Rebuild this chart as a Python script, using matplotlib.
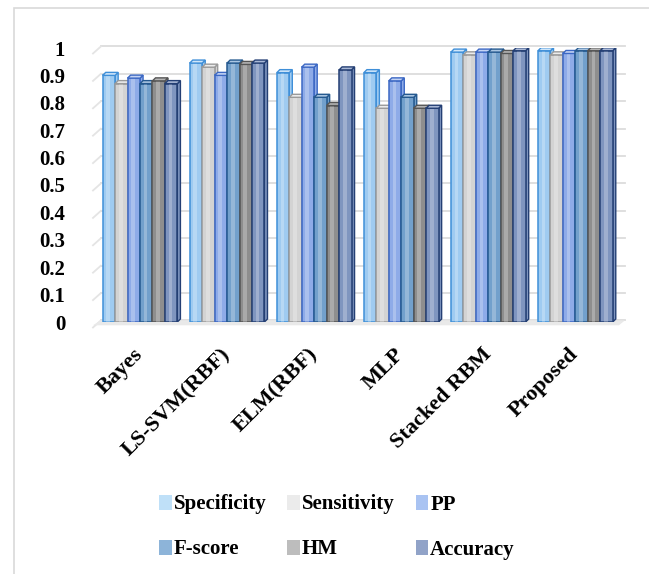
import matplotlib
matplotlib.use("Agg")
import matplotlib.pyplot as plt
import numpy as np
from matplotlib.patches import Polygon, Rectangle, Patch

# Scores for each classifier, one list per metric
methods = ["Bayes", "LS-SVM(RBF)", "ELM(RBF)", "MLP", "Stacked RBM", "Proposed"]
specificity = [0.90, 0.945, 0.91, 0.91, 0.985, 0.99]
sensitivity = [0.87, 0.93, 0.82, 0.78, 0.975, 0.975]
pp = [0.89, 0.90, 0.93, 0.88, 0.985, 0.98]
f_score = [0.87, 0.945, 0.82, 0.82, 0.985, 0.99]
hm = [0.88, 0.94, 0.79, 0.78, 0.98, 0.99]
accuracy = [0.87, 0.945, 0.92, 0.78, 0.99, 0.99]
series_names = ["Specificity", "Sensitivity", "PP", "F-score", "HM", "Accuracy"]
y_ticks = [0, 0.1, 0.2, 0.3, 0.4, 0.5, 0.6, 0.7, 0.8, 0.9, 1]

series = [specificity, sensitivity, pp, f_score, hm, accuracy]
face_colors = ["#9fcbf1", "#d3d3d3", "#8eabe8", "#72a0cc", "#8e8e8e", "#7f95bf"]
edge_colors = ["#3f8fd8", "#9a9a9a", "#3c68c4", "#25598f", "#555555", "#243f74"]
top_colors = ["#cfe6fa", "#ececec", "#c3d3f4", "#a9c5e2", "#b5b5b5", "#a9b8d6"]
legend_colors = ["#bfe0f8", "#ebebeb", "#a9c3f2", "#8db4d9", "#bdbdbd", "#91a3c8"]

FONT = "Liberation Serif"

fig = plt.figure(figsize=(6.49, 5.74), dpi=100)
fig.patch.set_facecolor("white")

# Light frame round the chart area
fig.patches.append(Rectangle((14 / 649, -0.1), 1.2, 1 - 8 / 574 + 0.1,
                             transform=fig.transFigure, fill=False,
                             edgecolor="#d9d9d9", linewidth=1.2))

ax = fig.add_axes([93 / 649, 252 / 574, 532 / 649, 274 / 574])
ax.set_xlim(-0.54, 5.57)
ax.set_ylim(0, 1.0)

x = np.arange(len(methods))
width = 0.143
dx, dy = 0.035, 0.011  # depth offset of the pseudo-3D bars

# Back-wall gridlines and floor
for t in y_ticks:
    ax.plot([-0.54 + 0.09, 5.57], [t + dy * 0.5, t + dy * 0.5], color="#dcdcdc",
            linewidth=1.3, zorder=0, clip_on=False)
    ax.plot([-0.54, -0.54 + 0.09], [t - 0.02, t + dy * 0.5], color="#e4e4e4",
            linewidth=1.3, zorder=0, clip_on=False)
ax.add_patch(Polygon([[-0.54, -0.012], [-0.45, 0.006], [5.57, 0.006], [5.50, -0.012]],
                     closed=True, facecolor="#e9e9e9", edgecolor="none", zorder=0,
                     clip_on=False))

for i, vals in enumerate(series):
    xs = x + (i - 2.5) * width
    bars = ax.bar(xs, vals, width=width, color=face_colors[i],
                  edgecolor=edge_colors[i], linewidth=1.1, zorder=2 + i)
    for b, v in zip(bars, vals):
        x0 = b.get_x()
        x1 = x0 + b.get_width()
        # highlight stripe
        ax.add_patch(Rectangle((x0 + b.get_width() * 0.3, 0), b.get_width() * 0.3, v,
                               facecolor="white", alpha=0.25, edgecolor="none",
                               zorder=2 + i))
        # top cap
        ax.add_patch(Polygon([[x0, v], [x0 + dx, v + dy], [x1 + dx, v + dy], [x1, v]],
                             closed=True, facecolor=top_colors[i],
                             edgecolor=edge_colors[i], linewidth=1.0, zorder=2 + i))
        # right side
        ax.add_patch(Polygon([[x1, 0], [x1 + dx, dy], [x1 + dx, v + dy], [x1, v]],
                             closed=True, facecolor=face_colors[i],
                             edgecolor=edge_colors[i], linewidth=1.0, zorder=1.5 + i))

for s in ax.spines.values():
    s.set_visible(False)
ax.set_yticks(y_ticks)
ax.set_yticklabels([f"{t:g}" for t in y_ticks], fontfamily=FONT, fontweight="bold",
                   fontsize=15)
ax.tick_params(axis="y", length=0, pad=20)
ax.set_xticks(x - 0.08)
ax.set_xticklabels(methods, rotation=45, ha="right", rotation_mode="anchor",
                   fontfamily=FONT, fontweight="bold", fontsize=16)
ax.tick_params(axis="x", length=0, pad=16)

# Legend, filled row by row
order = [0, 3, 1, 4, 2, 5]
handles = [Patch(facecolor=legend_colors[k], edgecolor="none") for k in order]
labels = [series_names[k] for k in order]
fig.legend(handles, labels, loc="center", bbox_to_anchor=(337 / 649, 1 - 527 / 574),
           ncol=3, frameon=False, prop={"family": FONT, "weight": "bold", "size": 15},
           handlelength=0.6, handleheight=0.7, handletextpad=0.1, columnspacing=1.0,
           labelspacing=1.2)

fig.savefig("out.png", dpi=100)
